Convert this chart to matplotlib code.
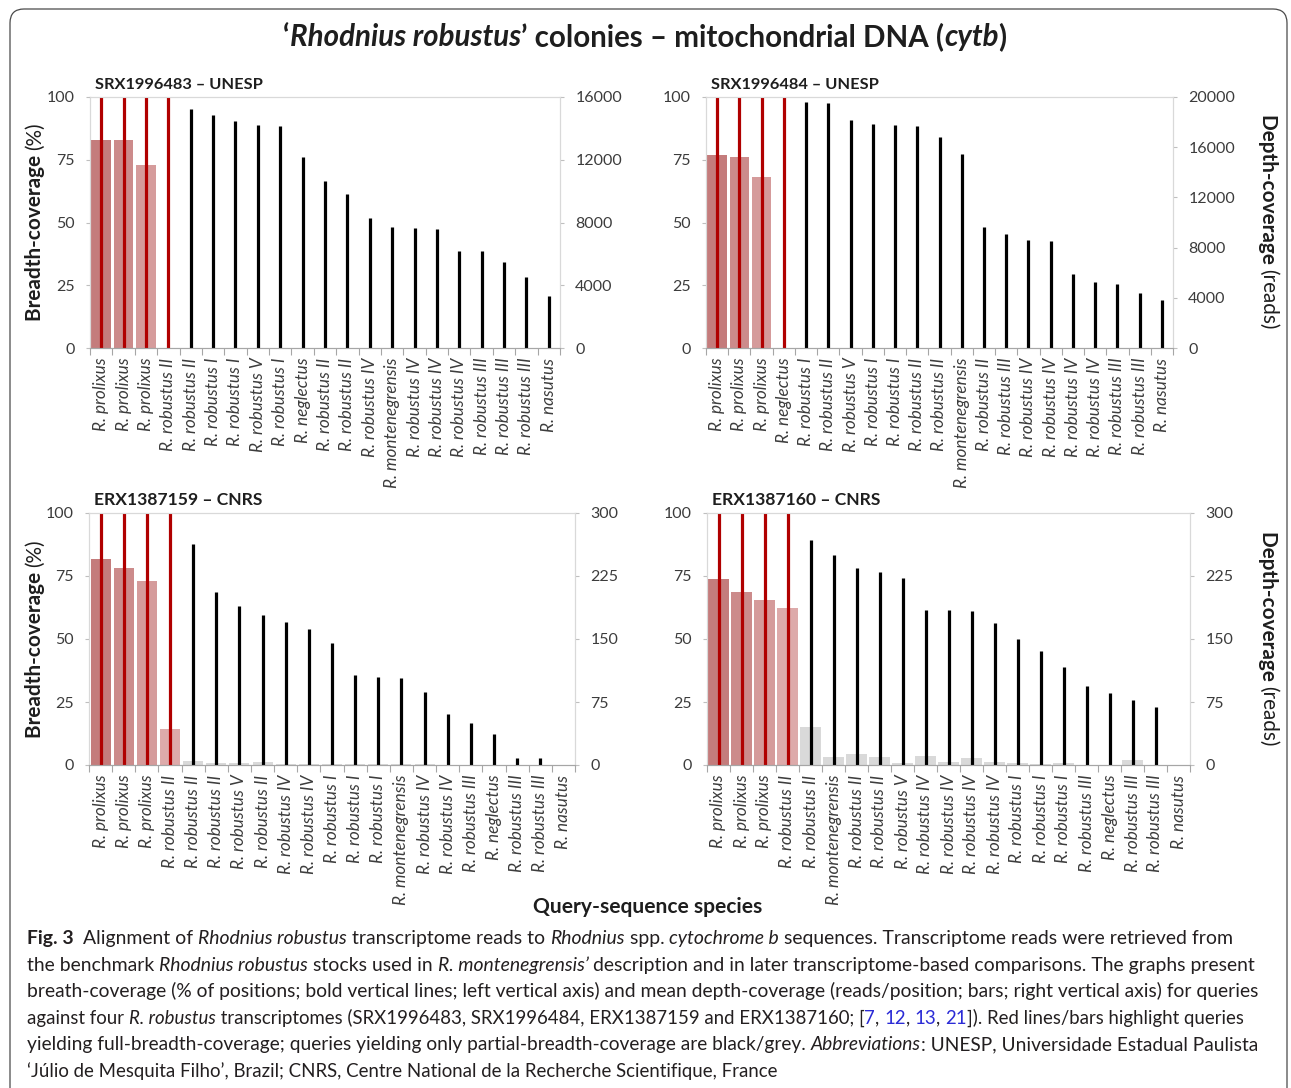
import matplotlib
matplotlib.use('Agg')
import matplotlib.pyplot as plt
from matplotlib.patches import FancyBboxPatch
from matplotlib.transforms import IdentityTransform
import numpy as np

W, H = 1291, 1088
plt.rcParams['font.family'] = ['Lato', 'DejaVu Sans']

# ---------------- data ----------------
titles = ['SRX1996483 – UNESP', 'SRX1996484 – UNESP', 'ERX1387159 – CNRS', 'ERX1387160 – CNRS']

labels_483 = ['R. prolixus', 'R. prolixus', 'R. prolixus', 'R. robustus II', 'R. robustus II',
              'R. robustus I', 'R. robustus I', 'R. robustus V', 'R. robustus I', 'R. neglectus',
              'R. robustus II', 'R. robustus II', 'R. robustus IV', 'R. montenegrensis', 'R. robustus IV',
              'R. robustus IV', 'R. robustus IV', 'R. robustus III', 'R. robustus III', 'R. robustus III',
              'R. nasutus']
breadth_483 = [100, 100, 100, 100, 95.1, 92.8, 90.4, 88.9, 88.4, 76.0, 66.7, 61.5, 51.9, 48.4,
               48.0, 47.6, 38.7, 38.7, 34.1, 28.4, 20.8]
depth_483 = [13270, 13270, 11690, 0, 0, 0, 0, 0, 0, 0, 0, 0, 0, 0, 0, 0, 0, 0, 0, 0, 0]

labels_484 = ['R. prolixus', 'R. prolixus', 'R. prolixus', 'R. neglectus', 'R. robustus I',
              'R. robustus II', 'R. robustus V', 'R. robustus I', 'R. robustus I', 'R. robustus II',
              'R. robustus II', 'R. montenegrensis', 'R. robustus II', 'R. robustus III', 'R. robustus IV',
              'R. robustus IV', 'R. robustus IV', 'R. robustus IV', 'R. robustus III', 'R. robustus III',
              'R. nasutus']
breadth_484 = [100, 100, 100, 100, 98.1, 97.6, 90.7, 89.1, 88.8, 88.4, 84.0, 77.3, 48.4, 45.6,
               43.1, 42.8, 29.5, 26.3, 25.3, 22.0, 19.3]
depth_484 = [15360, 15230, 13600, 0, 0, 0, 0, 0, 0, 0, 0, 0, 0, 0, 0, 0, 0, 0, 0, 0, 0]

labels_159 = ['R. prolixus', 'R. prolixus', 'R. prolixus', 'R. robustus II', 'R. robustus II',
              'R. robustus II', 'R. robustus V', 'R. robustus II', 'R. robustus IV', 'R. robustus IV',
              'R. robustus I', 'R. robustus I', 'R. robustus I', 'R. montenegrensis', 'R. robustus IV',
              'R. robustus IV', 'R. robustus III', 'R. neglectus', 'R. robustus III', 'R. robustus III',
              'R. nasutus']
breadth_159 = [100, 100, 100, 100, 87.6, 68.6, 63.0, 59.7, 56.6, 53.9, 48.5, 35.7, 34.9, 34.4,
               29.0, 20.2, 16.5, 12.4, 2.7, 2.7, 0]
depth_159 = [245, 234, 219, 43.2, 5, 2.5, 2.5, 3.5, 1.5, 1.2, 1.2, 1.0, 1.0, 1.0, 0.8, 0.5,
             0.3, 0.3, 0.2, 0.2, 0]

labels_160 = ['R. prolixus', 'R. prolixus', 'R. prolixus', 'R. robustus II', 'R. robustus II',
              'R. montenegrensis', 'R. robustus II', 'R. robustus II', 'R. robustus V', 'R. robustus IV',
              'R. robustus IV', 'R. robustus IV', 'R. robustus IV', 'R. robustus I', 'R. robustus I',
              'R. robustus I', 'R. robustus III', 'R. neglectus', 'R. robustus III', 'R. robustus III',
              'R. nasutus']
breadth_160 = [100, 100, 100, 100, 89.1, 83.5, 78.0, 76.4, 74.1, 61.7, 61.5, 61.2, 56.4, 50.1,
               45.3, 39.0, 31.2, 28.4, 25.7, 23.1, 0]
depth_160 = [222, 205.6, 197, 186.4, 45.6, 9, 12.7, 10, 2.8, 11, 3.6, 8, 4, 2.4, 1.2, 2, 0.5,
             0, 5.5, 0.3, 0]

depth_ticks = [[0, 4000, 8000, 12000, 16000],
               [0, 4000, 8000, 12000, 16000, 20000],
               [0, 75, 150, 225, 300],
               [0, 75, 150, 225, 300]]
breadth_ticks = [0, 25, 50, 75, 100]

# ---------------- style ----------------
RED_LINE = '#b00000'
PINKS = ['#c47c7c', '#cc8b8b', '#d59b9b', '#ddaaaa']
GREY_BAR = '#d9d9d9'
TICK_COL = '#3c3c3c'
TXT = '#1e1e1e'

# axes boxes in pixels (left, right, top, bottom) from top-left
boxes = [(90, 560, 97, 348), (706, 1173, 97, 348), (89, 575, 513, 765), (707, 1190, 513, 765)]

fig = plt.figure(figsize=(W / 100, H / 100), dpi=100)
fig.patch.set_facecolor('white')
r = fig.canvas.get_renderer()


def seg_width(s, size, props):
    t1 = fig.text(0, 0, '|' + s + '|', fontsize=size, **props)
    t2 = fig.text(0, 0, '||', fontsize=size, **props)
    w = t1.get_window_extent(r).width - t2.get_window_extent(r).width
    t1.remove()
    t2.remove()
    return w


def rich(x, y, segs, size, rotation=0, align='left', fit=None, color=TXT):
    ws = [seg_width(s, size, p) for s, p in segs]
    if fit:
        size = size * fit / sum(ws)
        ws = [seg_width(s, size, p) for s, p in segs]
    total = sum(ws)
    dx, dy = {0: (1, 0), 90: (0, -1), 270: (0, 1)}[rotation]
    if align == 'center':
        x -= dx * total / 2
        y -= dy * total / 2
    pos = 0
    for (s, p), w in zip(segs, ws):
        kw = dict(color=color)
        kw.update(p)
        fig.text((x + dx * pos) / W, 1 - (y + dy * pos) / H, s, fontsize=size,
                 rotation=rotation, rotation_mode='anchor', ha='left', va='baseline', **kw)
        pos += w
    return size


B = dict(fontweight='bold')
I = dict(fontstyle='italic')
BI = dict(fontweight='bold', fontstyle='italic')
R = dict()
BLUE = dict(color='#2b2bd6')

# outer frame
frame = FancyBboxPatch((10, -30), 1277, H - 9 + 30, boxstyle='round,pad=0,rounding_size=14',
                       transform=IdentityTransform(), facecolor='none', edgecolor='#4a4a4a',
                       linewidth=0.9)
fig.add_artist(frame)

panels = [(labels_483, breadth_483, depth_483), (labels_484, breadth_484, depth_484),
          (labels_159, breadth_159, depth_159), (labels_160, breadth_160, depth_160)]

for k, ((labels, breadth, depth), (l, rr, t, b)) in enumerate(zip(panels, boxes)):
    ax = fig.add_axes([l / W, 1 - b / H, (rr - l) / W, (b - t) / H])
    ax2 = ax.twinx()
    ax.set_zorder(ax2.get_zorder() + 1)
    ax.patch.set_visible(False)
    n = len(labels)
    x = np.arange(n)
    full = [v >= 100 for v in breadth]
    bar_cols = []
    ri = 0
    for f in full:
        if f:
            bar_cols.append(PINKS[min(ri, 3)])
            ri += 1
        else:
            bar_cols.append(GREY_BAR)
    line_cols = [RED_LINE if f else 'black' for f in full]
    ax2.bar(x, depth, width=0.87, color=bar_cols, linewidth=0)
    ax.vlines(x, 0, breadth, colors=line_cols, linewidth=2.3)
    ax.set_xlim(-0.5, n - 0.5)
    ax.set_ylim(0, 100)
    ax2.set_ylim(0, depth_ticks[k][-1])
    ax.set_yticks(breadth_ticks)
    ax2.set_yticks(depth_ticks[k])
    ax.set_xticks(x)
    ax.set_xticklabels(labels, rotation=90, fontstyle='italic', fontsize=12.3, color=TICK_COL)
    ax.set_xticks(np.arange(-0.5, n, 1), minor=True)
    ax.tick_params(axis='x', which='major', length=0, pad=7)
    ax.tick_params(axis='x', which='minor', length=5, color='#a6a6a6', width=0.8)
    for a in (ax, ax2):
        a.tick_params(axis='y', length=3, color='#bfbfbf', width=0.8, labelsize=11.5,
                      labelcolor=TICK_COL, pad=8)
        for sname in ('top', 'left', 'right'):
            a.spines[sname].set_color('#d9d9d9')
            a.spines[sname].set_linewidth(0.8)
        a.spines['bottom'].set_color('#a6a6a6')
        a.spines['bottom'].set_linewidth(0.8)
    # panel title
    rich(l + 5, t - 8, [(titles[k], B)], 12, fit=168)

# axis labels
for ty in (222, 639):
    rich(41, ty, [('Breadth-coverage ', B), ('(%)', R)], 14, rotation=90, align='center', fit=200)
for ty in (222, 639):
    rich(1262, ty, [('Depth-coverage ', B), ('(reads)', R)], 14, rotation=270, align='center', fit=217)

rich(648, 913, [('Query-sequence species', B)], 13.5, align='center', fit=228)

# main title
rich(645, 46, [('‘', B), ('Rhodnius robustus', BI), ('’ colonies – mitochondrial DNA (', B),
               ('cytb', BI), (')', B)], 20, align='center', fit=723)

# caption
cap_lines = [
    [('Fig. 3  ', B), ('Alignment of ', R), ('Rhodnius robustus', I), (' transcriptome reads to ', R),
     ('Rhodnius', I), (' spp. ', R), ('cytochrome b', I),
     (' sequences. Transcriptome reads were retrieved from', R)],
    [('the benchmark ', R), ('Rhodnius robustus', I), (' stocks used in ', R), ('R. montenegrensis’', I),
     (' description and in later transcriptome-based comparisons. The graphs present', R)],
    [('breath-coverage (% of positions; bold vertical lines; left vertical axis) and mean depth-coverage '
      '(reads/position; bars; right vertical axis) for queries', R)],
    [('against four ', R), ('R. robustus', I),
     (' transcriptomes (SRX1996483, SRX1996484, ERX1387159 and ERX1387160; [', R),
     ('7', BLUE), (', ', R), ('12', BLUE), (', ', R), ('13', BLUE), (', ', R), ('21', BLUE),
     (']). Red lines/bars highlight queries', R)],
    [('yielding full-breadth-coverage; queries yielding only partial-breadth-coverage are black/grey. ', R),
     ('Abbreviations', I), (': UNESP, Universidade Estadual Paulista', R)],
    [('‘Júlio de Mesquita Filho’, Brazil; CNRS, Centre National de la Recherche Scientifique, France', R)],
]
cap_widths = [1200, 1224, 1226, 1208, 1226, 750]
base_y = 944
for i, (line, tw) in enumerate(zip(cap_lines, cap_widths)):
    rich(27, base_y + i * 26.6, line, 12, fit=tw, color='#231f20')

fig.savefig('out.png', dpi=100)
